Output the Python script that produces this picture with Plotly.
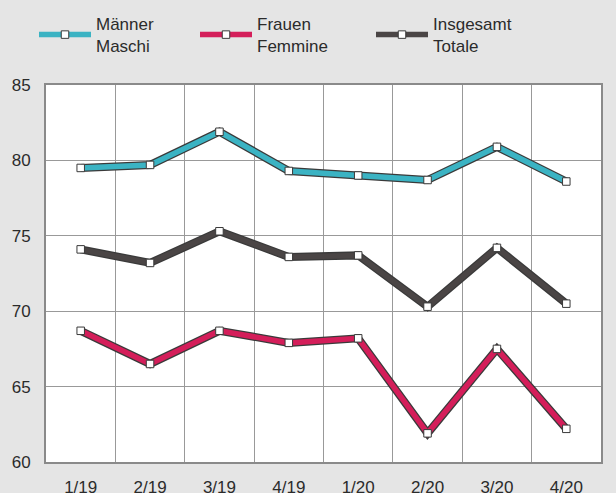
import plotly.graph_objects as go

quarters = ["1/19", "2/19", "3/19", "4/19", "1/20", "2/20", "3/20", "4/20"]
maenner = [79.5, 79.7, 81.9, 79.3, 79.0, 78.7, 80.9, 78.6]
frauen = [68.7, 66.5, 68.7, 67.9, 68.2, 61.9, 67.5, 62.2]
insgesamt = [74.1, 73.2, 75.3, 73.6, 73.7, 70.3, 74.2, 70.5]

names = ["Männer<br>Maschi", "Frauen<br>Femmine", "Insgesamt<br>Totale"]
colors = ["#3BB3C3", "#D41E5A", "#4A4545"]
series = [maenner, frauen, insgesamt]
legends = ["legend", "legend2", "legend3"]
legend_x = [34 / 616, 195 / 616, 371 / 616]

OUTLINE = "#3a3a3a"

fig = go.Figure()

# dark outline under each line
for vals in series:
    fig.add_trace(go.Scatter(
        x=quarters, y=vals, mode="lines",
        line=dict(color=OUTLINE, width=8),
        showlegend=False, hoverinfo="skip",
    ))

for name, vals, col, lg in zip(names, series, colors, legends):
    fig.add_trace(go.Scatter(
        x=quarters, y=vals, mode="lines+markers", name=name,
        line=dict(color=col, width=5.5),
        marker=dict(symbol="square", size=7.5, color="white",
                    line=dict(color=OUTLINE, width=1)),
        legend=lg,
    ))

font = dict(family="Liberation Sans, Arial, sans-serif", size=17, color="#2b2b2b")

leg = dict(orientation="h", xref="container", yref="container",
           y=1 - 6 / 493, yanchor="top", xanchor="left",
           bgcolor="rgba(0,0,0,0)", font=font, itemwidth=52)

fig.update_layout(
    width=616, height=493,
    margin=dict(l=46, r=15, t=85, b=31),
    paper_bgcolor="#E5E5E5",
    plot_bgcolor="white",
    font=font,
    legend=dict(leg, x=legend_x[0]),
    legend2=dict(leg, x=legend_x[1]),
    legend3=dict(leg, x=legend_x[2]),
    xaxis=dict(
        type="category", range=[-0.5, 7.5], tickson="boundaries",
        showgrid=True, gridcolor="#999999", gridwidth=1,
        showline=True, linecolor="#8a8a8a", linewidth=2, mirror=True,
        ticks="", ticklabelstandoff=9,
        zeroline=False, automargin=False,
    ),
    yaxis=dict(
        range=[60, 85], dtick=5,
        showgrid=True, gridcolor="#999999", gridwidth=1,
        showline=True, linecolor="#8a8a8a", linewidth=2, mirror=True,
        ticks="outside", ticklen=10, tickcolor="rgba(0,0,0,0)",
        zeroline=False, automargin=False,
    ),
)

# drop the browser's default 8px body margin so the figure fills the window
fig.write_html("out.html", config={"displayModeBar": False},
               post_script="document.body.style.margin='0';")
